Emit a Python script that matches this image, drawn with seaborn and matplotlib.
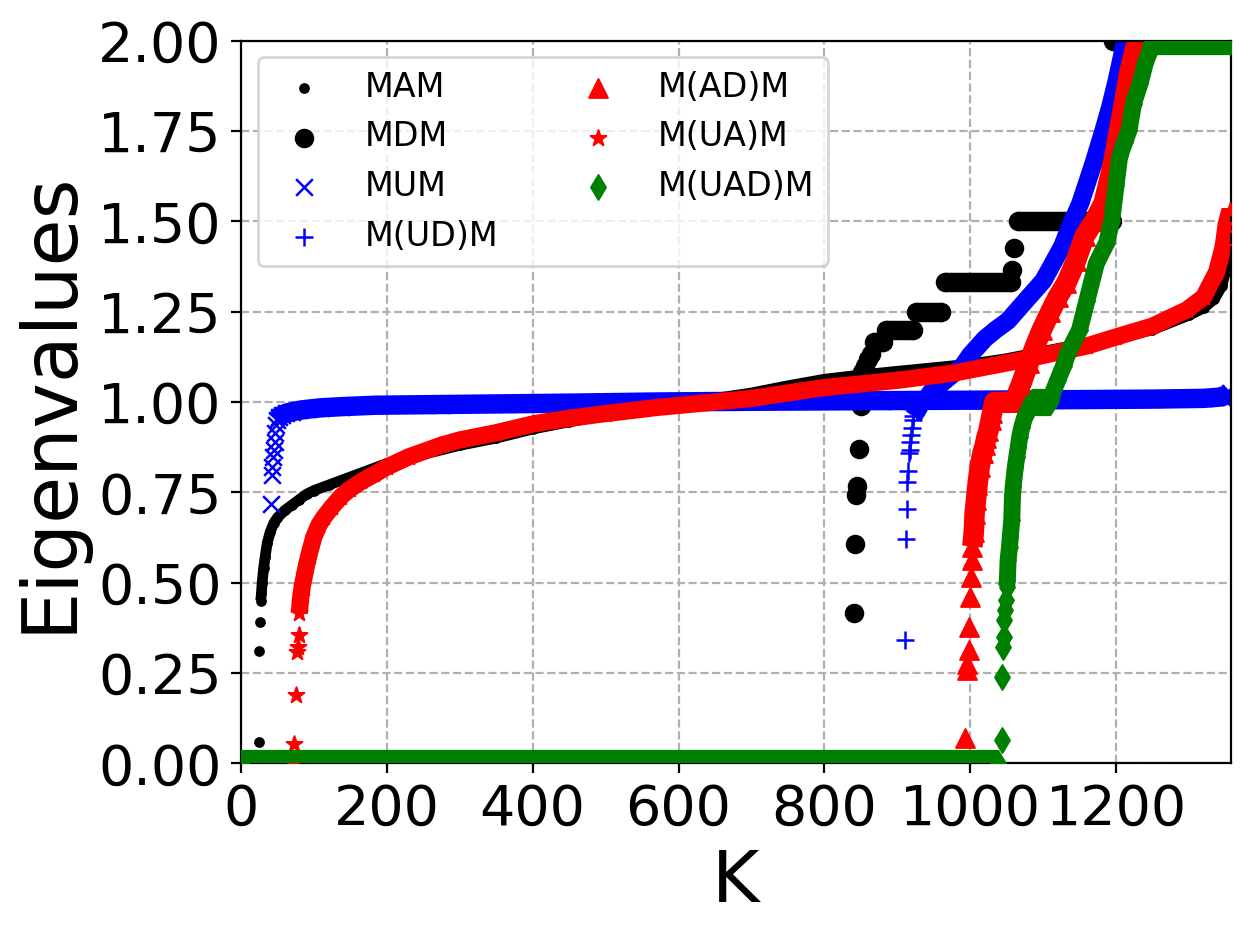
import numpy as np
import pandas as pd
import matplotlib
matplotlib.use("Agg")
import matplotlib.pyplot as plt
from matplotlib.ticker import FormatStrFormatter
import seaborn as sns

# ---------------- data (K index, eigenvalue) ----------------
K_MAX = 1357

# MAM (black dots)
MAM_FLAT_K0 = [0]
MAM_FLAT_K1 = [22]
MAM_FLAT_V = [0.0]
MAM_PTS_K = [24, 25, 26]
MAM_PTS_V = [0.059, 0.31, 0.39]
MAM_CURVE_K = [27, 28, 29, 31, 33, 36, 40, 45, 50, 60, 70, 80, 90, 100, 120, 140, 160,
               180, 200, 250, 300, 350, 400, 450, 500, 550, 600, 650, 700, 750, 800, 850,
               900, 950, 1000, 1050, 1100, 1150, 1200, 1250, 1300, 1320, 1335, 1345, 1350,
               1353, 1356]
MAM_CURVE_V = [0.45, 0.47, 0.50, 0.54, 0.57, 0.61, 0.64, 0.665, 0.68, 0.70, 0.715, 0.73,
               0.745, 0.755, 0.77, 0.785, 0.80, 0.815, 0.83, 0.855, 0.88, 0.90, 0.925, 0.945,
               0.962, 0.98, 0.997, 1.01, 1.025, 1.045, 1.063, 1.075, 1.085, 1.095, 1.105,
               1.12, 1.14, 1.16, 1.175, 1.20, 1.24, 1.26, 1.285, 1.32, 1.36, 1.42, 1.525]

# MDM (black circles)
MDM_FLAT_K0 = [0, 868, 884, 926, 965, 1065, 1196]
MDM_FLAT_K1 = [838, 880, 921, 960, 1056, 1195, 1357]
MDM_FLAT_V = [0.0, 1.166, 1.2, 1.25, 1.333, 1.5, 2.0]
MDM_PTS_K = [841, 842, 844, 845, 848, 850, 852, 856, 860, 864, 1058, 1060]
MDM_PTS_V = [0.415, 0.606, 0.742, 0.767, 0.869, 0.99, 1.083, 1.10, 1.12, 1.134, 1.365, 1.425]
MDM_CURVE_K = []
MDM_CURVE_V = []

# MUM (blue x)
MUM_FLAT_K0 = [0]
MUM_FLAT_K1 = [39]
MUM_FLAT_V = [0.0]
MUM_PTS_K = [41, 42, 43, 44, 45, 46, 47, 48]
MUM_PTS_V = [0.717, 0.798, 0.821, 0.849, 0.867, 0.89, 0.913, 0.936]
MUM_CURVE_K = [49, 52, 56, 62, 70, 80, 91, 110, 137, 183, 274, 365, 457, 571, 700, 900,
               1100, 1250, 1320, 1345, 1352, 1356]
MUM_CURVE_V = [0.95, 0.958, 0.964, 0.969, 0.973, 0.977, 0.98, 0.984, 0.987, 0.991, 0.993,
               0.995, 0.997, 1.0, 1.002, 1.004, 1.006, 1.008, 1.01, 1.014, 1.02, 1.026]

# M(UD)M (blue +)
MUDM_FLAT_K0 = [0, 1212]
MUDM_FLAT_K1 = [909, 1357]
MUDM_FLAT_V = [0.0, 2.0]
MUDM_PTS_K = [911, 912, 913, 914, 915, 916, 917, 918, 919, 920, 921]
MUDM_PTS_V = [0.341, 0.62, 0.703, 0.779, 0.809, 0.858, 0.867, 0.89, 0.909, 0.927, 0.95]
MUDM_CURVE_K = [922, 927, 931, 940, 947, 960, 975, 989, 1000, 1020, 1035, 1052, 1065, 1078,
                1100, 1126, 1135, 1151, 1169, 1183, 1192, 1201, 1208, 1212]
MUDM_CURVE_V = [0.96, 0.975, 0.99, 1.01, 1.03, 1.05, 1.075, 1.098, 1.13, 1.175, 1.2, 1.225,
                1.255, 1.285, 1.335, 1.43, 1.476, 1.55, 1.66, 1.753, 1.817, 1.891, 1.956, 2.0]

# M(AD)M (red triangles)
MADM_FLAT_K0 = [0, 1033, 1229]
MADM_FLAT_K1 = [991, 1060, 1357]
MADM_FLAT_V = [0.0, 1.0, 2.0]
MADM_PTS_K = [993, 995, 996, 998, 999, 1000, 1001, 1002]
MADM_PTS_V = [0.069, 0.258, 0.276, 0.313, 0.378, 0.461, 0.516, 0.562]
MADM_CURVE_K = [1003, 1005, 1006, 1008, 1010, 1013, 1017, 1020, 1022, 1025, 1028, 1030, 1033,
                1060, 1070, 1080, 1090, 1098, 1110, 1120, 1132, 1145, 1157, 1170, 1183, 1196,
                1210, 1219, 1226, 1229]
MADM_CURVE_V = [0.60, 0.64, 0.69, 0.73, 0.77, 0.82, 0.86, 0.88, 0.90, 0.92, 0.95, 0.97, 1.0,
                1.0, 1.05, 1.107, 1.16, 1.199, 1.25, 1.29, 1.33, 1.39, 1.46, 1.50, 1.55, 1.66,
                1.817, 1.919, 1.975, 2.0]

# M(UA)M (red stars)
MUAM_FLAT_K0 = [0]
MUAM_FLAT_K1 = [71]
MUAM_FLAT_V = [0.0]
MUAM_PTS_K = [73, 75, 77, 78, 79]
MUAM_PTS_V = [0.053, 0.188, 0.309, 0.322, 0.355]
MUAM_CURVE_K = [80, 81, 82, 84, 87, 90, 95, 100, 107, 114, 125, 137, 150, 165, 183, 200, 230,
                274, 300, 350, 402, 450, 500, 571, 650, 700, 800, 900, 977, 1068, 1160, 1200,
                1250, 1297, 1320, 1338, 1347, 1351, 1356]
MUAM_CURVE_V = [0.415, 0.44, 0.461, 0.49, 0.52, 0.55, 0.59, 0.627, 0.66, 0.682, 0.71, 0.738,
                0.76, 0.78, 0.80, 0.82, 0.848, 0.88, 0.895, 0.915, 0.94, 0.955, 0.968, 0.985,
                1.0, 1.01, 1.04, 1.06, 1.08, 1.115, 1.155, 1.18, 1.21, 1.255, 1.29, 1.36,
                1.43, 1.49, 1.53]

# M(UAD)M (green thin diamonds)
MUADM_FLAT_K0 = [0, 1085, 1250]
MUADM_FLAT_K1 = [1038, 1110, 1357]
MUADM_FLAT_V = [0.0, 1.0, 2.0]
MUADM_PTS_K = [1043, 1044, 1045, 1046, 1047, 1048, 1049]
MUADM_PTS_V = [0.064, 0.239, 0.322, 0.35, 0.396, 0.424, 0.452]
MUADM_CURVE_K = [1050, 1051, 1052, 1054, 1055, 1057, 1058, 1059, 1062, 1064, 1066, 1068, 1071,
                 1075, 1080, 1085, 1110, 1114, 1120, 1128, 1135, 1150, 1160, 1173, 1187, 1194,
                 1200, 1205, 1212, 1218, 1224, 1233, 1240, 1246, 1250]
MUADM_CURVE_V = [0.489, 0.507, 0.562, 0.60, 0.627, 0.673, 0.738, 0.766, 0.821, 0.849, 0.876,
                 0.904, 0.932, 0.959, 0.978, 1.0, 1.0, 1.03, 1.06, 1.10, 1.14, 1.2, 1.28,
                 1.383, 1.44, 1.50, 1.60, 1.68, 1.72, 1.753, 1.826, 1.882, 1.937, 1.97, 2.0]

X_TICKS = [0, 200, 400, 600, 800, 1000, 1200]
Y_TICKS = [0.0, 0.25, 0.5, 0.75, 1.0, 1.25, 1.5, 1.75, 2.0]

# ---------------- figure ----------------
DPI = 200
fig = plt.figure(figsize=(1254 / DPI, 936 / DPI), dpi=DPI)
ax = fig.add_axes([241 / 1254, 1 - 763.3 / 936, (1230.5 - 241) / 1254, (763.3 - 40.7) / 936])


def draw(z, label, color, marker, size, filled, mlw, band_lw, flat_lw,
         curve_k, curve_v, pts_k, pts_v, flat_k0, flat_k1, flat_v):
    if flat_v:
        seg_df = pd.DataFrame({
            "K": [k for pair in zip(flat_k0, flat_k1) for k in pair],
            "V": [v for v in flat_v for _ in range(2)],
            "seg": [i for i in range(len(flat_v)) for _ in range(2)],
        })
        sns.lineplot(data=seg_df, x="K", y="V", units="seg", estimator=None, sort=False,
                     color=color, linewidth=flat_lw, solid_capstyle="butt",
                     ax=ax, zorder=z, legend=False)
    if curve_k:
        cdf = pd.DataFrame({"K": curve_k, "V": curve_v})
        sns.lineplot(data=cdf, x="K", y="V", estimator=None, sort=False, color=color,
                     linewidth=band_lw, solid_capstyle="butt", solid_joinstyle="round",
                     ax=ax, zorder=z, legend=False)
    mk = list(pts_k) + list(curve_k) + list(flat_k0) + list(flat_k1)
    mv = list(pts_v) + list(curve_v) + list(flat_v) + list(flat_v)
    kw = dict(marker=marker, s=size, color=color, ax=ax, zorder=z + 0.05, label=label)
    if filled:
        kw.update(edgecolor=color, linewidth=mlw)
    else:
        kw.update(linewidth=mlw)
    sns.scatterplot(x=mk, y=mv, **kw)


draw(2.0, "MAM", "black", ".", 40, True, 0.7, 3.85, 3.85,
     MAM_CURVE_K, MAM_CURVE_V, MAM_PTS_K, MAM_PTS_V, MAM_FLAT_K0, MAM_FLAT_K1, MAM_FLAT_V)
draw(2.1, "MDM", "black", "o", 40, True, 0.7, 7.0, 7.0,
     MDM_CURVE_K, MDM_CURVE_V, MDM_PTS_K, MDM_PTS_V, MDM_FLAT_K0, MDM_FLAT_K1, MDM_FLAT_V)
draw(2.2, "MUM", "blue", "x", 36, False, 0.9, 7.0, 6.5,
     MUM_CURVE_K, MUM_CURVE_V, MUM_PTS_K, MUM_PTS_V, MUM_FLAT_K0, MUM_FLAT_K1, MUM_FLAT_V)
draw(2.3, "M(UD)M", "blue", "+", 40, False, 0.9, 6.5, 6.5,
     MUDM_CURVE_K, MUDM_CURVE_V, MUDM_PTS_K, MUDM_PTS_V, MUDM_FLAT_K0, MUDM_FLAT_K1, MUDM_FLAT_V)
draw(2.4, "M(AD)M", "red", "^", 46, True, 0.7, 7.4, 7.4,
     MADM_CURVE_K, MADM_CURVE_V, MADM_PTS_K, MADM_PTS_V, MADM_FLAT_K0, MADM_FLAT_K1, MADM_FLAT_V)
draw(2.5, "M(UA)M", "red", "*", 36, True, 0.7, 6.2, 6.2,
     MUAM_CURVE_K, MUAM_CURVE_V, MUAM_PTS_K, MUAM_PTS_V, MUAM_FLAT_K0, MUAM_FLAT_K1, MUAM_FLAT_V)
draw(2.6, "M(UAD)M", "green", "d", 40, True, 0.7, 6.1, 9.8,
     MUADM_CURVE_K, MUADM_CURVE_V, MUADM_PTS_K, MUADM_PTS_V, MUADM_FLAT_K0, MUADM_FLAT_K1, MUADM_FLAT_V)

ax.set_xlim(0, K_MAX)
ax.set_ylim(0, 2)
ax.set_xticks(X_TICKS)
ax.set_yticks(Y_TICKS)
ax.yaxis.set_major_formatter(FormatStrFormatter("%.2f"))
ax.tick_params(labelsize=20)
ax.grid(True, linestyle="--", color="#b0b0b0", linewidth=0.8)
ax.set_axisbelow(True)
ax.set_xlabel("K", fontsize=26)
ax.set_ylabel("Eigenvalues", fontsize=27.5)
for sp in ax.spines.values():
    sp.set_color("black")
    sp.set_linewidth(0.8)

ax.legend(ncol=2, loc="upper left", fontsize=12)

fig.savefig("out.png", dpi=DPI)
